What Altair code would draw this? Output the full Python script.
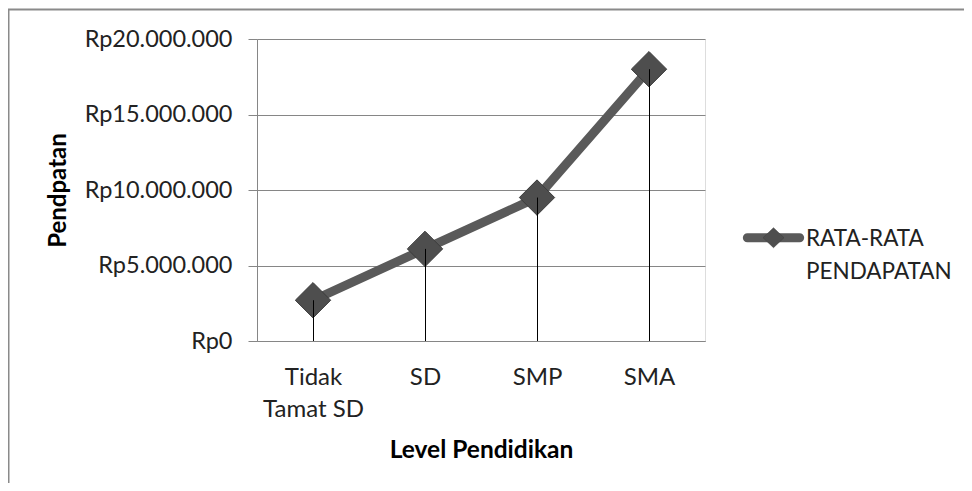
import altair as alt
import pandas as pd

categories = ["Tidak Tamat SD", "SD", "SMP", "SMA"]
values = [2700000, 6100000, 9500000, 18000000]
series_name = "RATA-RATA PENDAPATAN"
y_ticks = [0, 5000000, 10000000, 15000000, 20000000]

df = pd.DataFrame({"level": categories, "income": values})
legend_df = pd.DataFrame({"series": [series_name]})

FONT = "Lato"
W, H = 448, 302
PL, PT = 249, 31
LINE_COLOR = "#5a5a5a"
DIAMOND_FILL = "#4e4e4e"

x_enc = alt.X(
    "level:N",
    sort=categories,
    scale=alt.Scale(type="point", padding=0.5),
    axis=alt.Axis(
        title="Level Pendidikan",
        titleFont=FONT, titleFontSize=24.5, titleFontWeight="bold", titleColor="#000",
        titleY=109, titleBaseline="middle",
        labelExpr="datum.label == 'Tidak Tamat SD' ? ['Tidak', 'Tamat SD'] : datum.label",
        labelFont=FONT, labelFontSize=24, labelColor="#222", labelLineHeight=32,
        labelPadding=36, labelBaseline="middle", labelAngle=0,
        ticks=False, domainColor="#868686", domainWidth=1, grid=False,
    ),
)
y_enc = alt.Y(
    "income:Q",
    scale=alt.Scale(domain=[0, 20000000], nice=False),
    axis=alt.Axis(
        values=y_ticks,
        title="Pendpatan",
        titleFont=FONT, titleFontSize=24, titleFontWeight="bold", titleColor="#000",
        titleX=-199, titleBaseline="middle",
        labelExpr="'Rp' + join(split(format(datum.value, ',.0f'), ','), '.')",
        labelFont=FONT, labelFontSize=23.5, labelColor="#222", labelPadding=16,
        tickSize=9, tickColor="#868686", domainColor="#868686",
        grid=True, gridColor="#868686", gridWidth=1,
    ),
)

base = alt.Chart(df)

line = base.mark_line(color=LINE_COLOR, strokeWidth=9, strokeCap="round", strokeJoin="round").encode(x=x_enc, y=y_enc)

points = base.mark_point(
    shape="diamond", size=1250, filled=True, opacity=1,
    fill=DIAMOND_FILL, stroke="#3c3c3c", strokeWidth=1,
).encode(x=x_enc, y=y_enc)

drops = base.mark_rule(color="#000", strokeWidth=1, xOffset=0.5).encode(x=x_enc, y=y_enc, y2=alt.datum(0))

border = alt.Chart(pd.DataFrame({"a": [0]})).mark_rect(fill=None, stroke="#8a8a8a", strokeWidth=2).encode(
    x=alt.value(-248.5), x2=alt.value(W + 400), y=alt.value(-29.5), y2=alt.value(H + 300)
)

# legend (line with diamond + two-line label)
bar_path = ("M-0.853,-0.147 L0.853,-0.147 A0.147,0.147 0 0 1 0.853,0.147 "
            "L-0.853,0.147 A0.147,0.147 0 0 1 -0.853,-0.147 Z")
diamond_path = "M0,-0.95 L1,0 L0,0.95 L-1,0 Z"
leg = alt.Chart(legend_df)
leg_bar = leg.mark_point(shape=bar_path, size=3758, filled=True, opacity=1, fill=LINE_COLOR, strokeWidth=0).encode(
    x=alt.value(516.5), y=alt.value(198.7)
)
leg_diamond = leg.mark_point(shape=diamond_path, size=441, filled=True, opacity=1, fill=DIAMOND_FILL,
                             stroke="#3c3c3c", strokeWidth=0.5).encode(
    x=alt.value(516.5), y=alt.value(198.7)
)
leg_text = leg.mark_text(
    align="left", baseline="top", lineBreak=" ", lineHeight=33,
    font=FONT, fontSize=22.5, color="#222",
).encode(x=alt.value(549), y=alt.value(188.5), text="series:N")

chart = alt.layer(line, points, drops, border, leg_bar, leg_diamond, leg_text).properties(
    width=W, height=H,
    autosize=alt.AutoSizeParams(type="none"),
    padding={"left": PL, "top": PT, "right": 972 - 16 - PL - W, "bottom": 491 - 16 - PT - H},
).configure_view(stroke=None).configure(background="white")

chart.save("out.html", embed_options={"renderer": "svg", "actions": False})
